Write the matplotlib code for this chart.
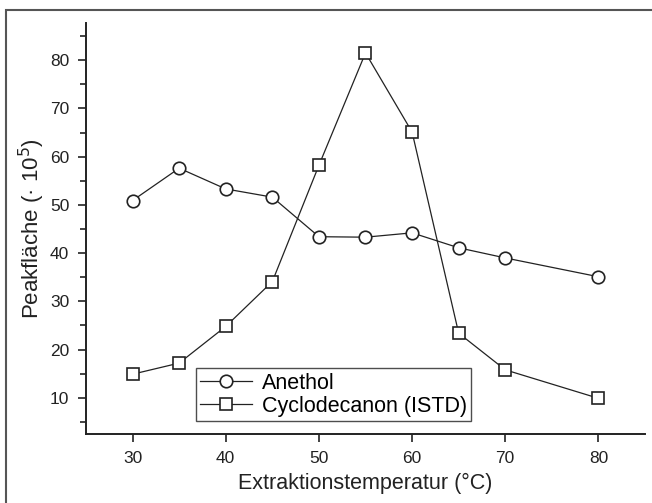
import matplotlib
matplotlib.use("Agg")
import matplotlib.pyplot as plt
from matplotlib.patches import Rectangle
from matplotlib.ticker import MultipleLocator

plt.rcParams["font.family"] = ["Liberation Sans", "DejaVu Sans"]

temperatur = [30, 35, 40, 45, 50, 55, 60, 65, 70, 80]
anethol = [50.9, 57.6, 53.3, 51.6, 43.4, 43.3, 44.2, 41.1, 39.0, 35.1]
cyclodecanon = [14.9, 17.2, 24.8, 34.1, 58.2, 81.5, 65.1, 23.4, 15.8, 9.9]

fig = plt.figure(figsize=(6.52, 5.03), dpi=100)
ax = fig.add_axes([86 / 652, 69 / 503, 559 / 652, 411 / 503])

# outer frame round the figure
fig.patches.append(
    Rectangle((5.5 / 652, -0.1), 1.2, (503 - 10.5) / 503 + 0.1,
              transform=fig.transFigure, fill=False, edgecolor="#555555",
              linewidth=1.5)
)

style = dict(color="#222222", linewidth=0.9, markersize=9,
             markerfacecolor="white", markeredgewidth=1.2,
             markeredgecolor="#222222")
ax.plot(temperatur, anethol, marker="o", label="Anethol", **style)
ax.plot(temperatur, cyclodecanon, marker="s", label="Cyclodecanon (ISTD)", **style)

ax.set_xlim(25, 85)
ax.set_ylim(2.5, 87.7)
ax.set_xticks([30, 40, 50, 60, 70, 80])
ax.yaxis.set_major_locator(MultipleLocator(10))
ax.yaxis.set_minor_locator(MultipleLocator(5))
ax.set_yticks(range(10, 81, 10))

for side in ("top", "right"):
    ax.spines[side].set_visible(False)
for side in ("left", "bottom"):
    ax.spines[side].set_linewidth(1.4)
    ax.spines[side].set_color("#222222")

ax.tick_params(axis="both", which="major", direction="out", length=6,
               width=1.2, labelsize=12.5, colors="#222222", pad=6)
ax.tick_params(axis="y", which="minor", direction="out", length=4, width=1.2,
               colors="#222222")

ax.set_xlabel("Extraktionstemperatur (°C)", fontsize=15.5, color="#222222",
              labelpad=5)
ax.set_ylabel("Peakfläche (· 10$^5$)", fontsize=16, color="#222222",
              labelpad=2)

leg = ax.legend(loc="lower left", bbox_to_anchor=(110 / 559, 13 / 411),
                fontsize=15.5, frameon=True, fancybox=False, handlelength=2.4,
                handletextpad=0.45, borderpad=0.2, labelspacing=0.1,
                borderaxespad=0)
leg.get_frame().set_edgecolor("#222222")
leg.get_frame().set_linewidth(1.0)

fig.savefig("out.png", dpi=100)
